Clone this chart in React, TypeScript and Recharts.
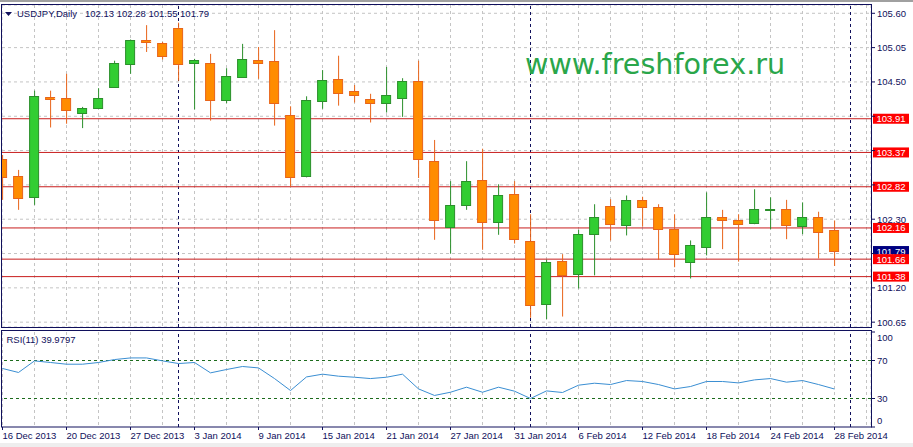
import { Bar, CartesianGrid, ComposedChart, Line, ReferenceLine, XAxis, YAxis } from 'recharts';

// daily USDJPY candles, 16 Dec 2013 .. 28 Feb 2014
const opens = [
  103.26, 102.99, 102.65, 104.26, 104.24, 104.0, 104.09, 104.42, 104.78, 105.18, 105.12, 105.36, 104.8, 104.8,
  104.21, 104.58, 104.85, 104.83, 103.97, 103.0, 104.19, 104.55, 104.35, 104.23, 104.16, 104.25, 104.52, 103.24,
  102.18, 102.52, 102.93, 102.26, 102.7, 101.95, 100.94, 101.63, 101.42, 102.06, 102.51, 102.21, 102.61, 102.49,
  102.14, 101.61, 101.86, 102.33, 102.29, 102.24, 102.44, 102.47, 102.19, 102.33, 102.13,
];
const highs = [
  103.33, 103.09, 104.36, 104.36, 104.63, 104.1, 104.4, 104.84, 105.18, 105.41, 105.14, 105.45, 104.87, 104.95,
  104.72, 105.11, 105.06, 105.33, 104.11, 104.27, 104.69, 104.92, 104.45, 104.31, 104.74, 104.56, 104.84, 103.57,
  102.91, 103.23, 103.43, 102.86, 102.91, 102.38, 101.65, 101.74, 102.13, 102.54, 102.62, 102.68, 102.66, 102.54,
  102.38, 101.96, 102.73, 102.45, 102.38, 102.78, 102.65, 102.61, 102.57, 102.42, 102.28,
];
const lows = [
  102.61, 102.45, 102.53, 103.77, 103.83, 103.76, 104.08, 104.41, 104.63, 104.98, 104.86, 104.52, 104.06, 103.88,
  104.16, 104.57, 104.55, 103.8, 102.82, 102.97, 104.07, 104.12, 104.17, 103.85, 104.01, 103.94, 102.96, 101.97,
  101.75, 102.45, 101.81, 102.05, 101.91, 100.72, 100.7, 100.74, 101.19, 101.4, 101.96, 102.04, 102.18, 101.65,
  101.53, 101.35, 101.72, 101.82, 101.62, 102.22, 102.14, 101.98, 102.06, 101.67, 101.55,
];
const closes = [
  102.98, 102.64, 104.27, 104.22, 104.05, 104.09, 104.25, 104.8, 105.17, 105.14, 104.91, 104.78, 104.85, 104.21,
  104.59, 104.86, 104.81, 104.16, 102.97, 104.21, 104.53, 104.32, 104.29, 104.16, 104.29, 104.52, 103.26, 102.28,
  102.53, 102.91, 102.25, 102.69, 101.99, 100.92, 101.61, 101.4, 102.07, 102.33, 102.23, 102.61, 102.5, 102.14,
  101.75, 101.88, 102.33, 102.28, 102.23, 102.46, 102.46, 102.2, 102.33, 102.1, 101.79,
];
const rsiValues = [
  61.6, 57.4, 69.6, 67.9, 66.1, 66.1, 67.9, 71.0, 72.7, 72.7, 69.6, 66.8, 67.9, 57.0, 60.5, 63.7, 62.2, 51.0,
  38.4, 52.7, 55.6, 53.5, 52.4, 51.0, 52.4, 55.6, 40.1, 33.2, 36.6, 41.9, 36.6, 41.9, 37.7, 30.0, 38.0, 36.3,
  44.0, 46.1, 44.7, 48.9, 47.9, 44.7, 40.1, 42.6, 47.9, 47.9, 46.4, 49.6, 51.0, 47.2, 48.9, 44.7, 39.98,
];
// one label every 4 bars
const dateLabels = [
  '16 Dec 2013', '20 Dec 2013', '27 Dec 2013', '3 Jan 2014', '9 Jan 2014', '15 Jan 2014', '21 Jan 2014',
  '27 Jan 2014', '31 Jan 2014', '6 Feb 2014', '12 Feb 2014', '18 Feb 2014', '24 Feb 2014', '28 Feb 2014',
];
const priceTicks = [105.6, 105.05, 104.5, 103.95, 103.4, 102.85, 102.3, 101.75, 101.2, 100.65];
const coveredPriceTicks = [103.95, 103.4, 102.85, 101.75];
const levels = [103.91, 103.37, 102.82, 102.16, 101.66, 101.38];
const lastPrice = 101.79;
const monthStarts = [11, 33, 53];
const rsiTicks = [0, 30, 70, 100];

const NAVY = '#10105c';
const GRID = '#c4c4c4';
const FONT = '"Liberation Sans", Arial, sans-serif';
const X_DOMAIN = [-0.03125, 54.28125];
const PRICE_DOMAIN = [100.5726, 105.7329];
const gridTicks = Array.from({ length: 28 }, (_, k) => k * 2);
const mainMargin = { top: 5, right: 0, bottom: 1, left: 2 };

const candles = opens.map((open, i) => ({
  i,
  open,
  high: highs[i],
  low: lows[i],
  close: closes[i],
  range: [lows[i], highs[i]],
}));
const rsiData = rsiValues.map((rsi, i) => ({ i, rsi }));

function Candle(props: any) {
  const { x, y, width, height, payload } = props;
  const { open, close, high, low } = payload;
  const cx = x + width / 2;
  const yOf = (v: number) => y + ((high - v) / (high - low || 1)) * height;
  const bull = close >= open;
  const edge = bull ? '#2b8f2b' : '#e8641a';
  const top = Math.round(yOf(Math.max(open, close))) + 0.5;
  const bottom = Math.round(yOf(Math.min(open, close))) + 0.5;
  return (
    <g>
      <line x1={cx} x2={cx} y1={yOf(high)} y2={yOf(low)} stroke={edge} strokeWidth={1} />
      <rect
        x={cx - 5}
        y={top}
        width={9}
        height={Math.max(bottom - top, 1)}
        fill={bull ? '#32cd32' : '#ff8c00'}
        stroke={edge}
        strokeWidth={1}
      />
    </g>
  );
}

function PriceTick({ x, y, payload }: any) {
  if (coveredPriceTicks.includes(payload.value)) return <g />;
  return (
    <text x={x} y={y} dy={3.5} textAnchor="start" fontSize={9.5} fontFamily={FONT} fill={NAVY}>
      {payload.value.toFixed(2)}
    </text>
  );
}

function PriceBox({ viewBox, value, fill }: any) {
  const left = viewBox.x + viewBox.width + 2;
  return (
    <g>
      <rect x={left} y={viewBox.y - 5} width={36} height={10} fill={fill} />
      <text x={left + 18} y={viewBox.y + 3.5} textAnchor="middle" fontSize={9.5} fontFamily={FONT} fill="#ffffff">
        {value.toFixed(2)}
      </text>
    </g>
  );
}

function RsiTick({ x, y, payload }: any) {
  const shift = payload.value === 100 ? 5 : payload.value === 0 ? -7 : 0;
  return (
    <text x={x} y={y + shift} dy={3.5} textAnchor="start" fontSize={9.5} fontFamily={FONT} fill={NAVY}>
      {payload.value}
    </text>
  );
}

function DateTick({ x, y, payload }: any) {
  const v = payload.value;
  if (v % 4 !== 0 || v / 4 >= dateLabels.length) return <g />;
  return (
    <g>
      <line x1={x} x2={x} y1={y} y2={y + 3} stroke={NAVY} />
      <text x={x} y={y + 12} textAnchor="start" fontSize={9.5} fontFamily={FONT} fill={NAVY}>
        {dateLabels[v / 4]}
      </text>
    </g>
  );
}

export default function App() {
  return (
    <div style={{ position: 'absolute', left: 0, top: 0, width: 913, height: 447, background: '#ffffff' }}>
      {/* main panel, back layer: grid, separators, levels, price axis */}
      <div style={{ position: 'absolute', left: 0, top: 0 }}>
        <ComposedChart width={913} height={328} data={candles} margin={mainMargin}>
          <CartesianGrid stroke={GRID} strokeDasharray="3 3" />
          <XAxis dataKey="i" type="number" domain={X_DOMAIN} ticks={gridTicks} hide allowDataOverflow />
          <YAxis
            orientation="right"
            width={42}
            domain={PRICE_DOMAIN}
            ticks={priceTicks}
            interval={0}
            allowDataOverflow
            axisLine={false}
            tickSize={4}
            tickMargin={2}
            tickLine={{ stroke: NAVY }}
            tick={<PriceTick />}
          />
          {monthStarts.map((m) => (
            <ReferenceLine key={m} x={m} stroke={NAVY} strokeDasharray="3 3" />
          ))}
          <ReferenceLine y={lastPrice} stroke="none" label={<PriceBox value={lastPrice} fill="#000080" />} />
          {levels.map((v) => (
            <ReferenceLine key={v} y={v} stroke="#c81e1e" label={<PriceBox value={v} fill="#ff0000" />} />
          ))}
        </ComposedChart>
      </div>
      {/* main panel, front layer: candles */}
      <div style={{ position: 'absolute', left: 0, top: 0 }}>
        <ComposedChart width={913} height={328} data={candles} margin={{ ...mainMargin, right: 42 }}>
          <XAxis dataKey="i" type="number" domain={X_DOMAIN} ticks={gridTicks} hide allowDataOverflow />
          <YAxis domain={PRICE_DOMAIN} hide allowDataOverflow />
          <Bar dataKey="range" isAnimationActive={false} shape={(props: any) => <Candle {...props} />} />
        </ComposedChart>
      </div>
      <div style={{ position: 'absolute', left: 0, top: 328 }}>
        <ComposedChart width={913} height={119} data={rsiData} margin={{ top: 4, right: 0, bottom: 0, left: 2 }}>
          <CartesianGrid horizontal={false} stroke={GRID} strokeDasharray="3 3" />
          <XAxis
            dataKey="i"
            type="number"
            domain={X_DOMAIN}
            ticks={gridTicks}
            interval={0}
            height={20}
            allowDataOverflow
            axisLine={false}
            tickLine={false}
            tickSize={0}
            tickMargin={0}
            tick={<DateTick />}
          />
          <YAxis
            orientation="right"
            width={42}
            domain={[0, 100]}
            ticks={rsiTicks}
            interval={0}
            axisLine={false}
            tickSize={4}
            tickMargin={2}
            tickLine={{ stroke: NAVY }}
            tick={<RsiTick />}
          />
          <ReferenceLine y={70} stroke="#1c6b1c" strokeDasharray="3 3" />
          <ReferenceLine y={30} stroke="#1c6b1c" strokeDasharray="3 3" />
          {monthStarts.map((m) => (
            <ReferenceLine key={m} x={m} stroke={NAVY} strokeDasharray="3 3" />
          ))}
          <Line type="linear" dataKey="rsi" stroke="#3a8ed2" strokeWidth={1} dot={false} isAnimationActive={false} />
        </ComposedChart>
      </div>
      <svg width={913} height={447} style={{ position: 'absolute', left: 0, top: 0, pointerEvents: 'none' }}>
        <rect x={0} y={0} width={913} height={2} fill="#a0a0a0" />
        <rect x={0} y={443} width={913} height={4} fill="#eeeeee" />
        <rect x={1.5} y={4.5} width={870} height={323} fill="none" stroke={NAVY} />
        <rect x={1.5} y={330.5} width={870} height={96.5} fill="none" stroke={NAVY} />
        <polygon points="5,12 12,12 8.5,16" fill={NAVY} />
        <text x={17} y={17} fontSize={9.5} fontFamily={FONT} fill={NAVY}>
          USDJPY,Daily
        </text>
        <text x={85} y={17} fontSize={9.5} fontFamily={FONT} fill={NAVY}>
          102.13 102.28 101.55 101.79
        </text>
        <text x={6.5} y={343} fontSize={9.5} fontFamily={FONT} fill={NAVY}>
          RSI(11) 39.9797
        </text>
        <text x={525} y={74} fontSize={28.6} fontFamily='"DejaVu Sans", sans-serif' fill="#2aa64a">
          www.freshforex.ru
        </text>
      </svg>
    </div>
  );
}
